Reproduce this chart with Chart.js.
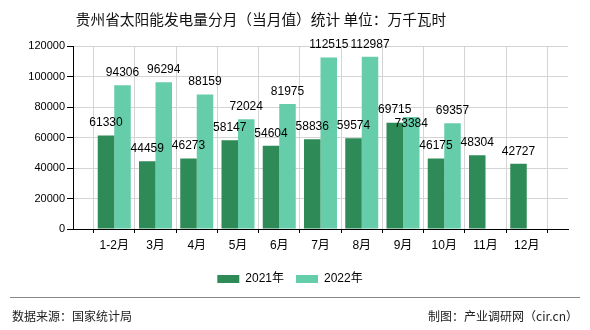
<!DOCTYPE html>
<html>
<head>
<meta charset="utf-8">
<script src="https://cdn.jsdelivr.net/npm/chart.js@4"></script>
<style>
  html, body { margin:0; padding:0; background:#fff; }
  #wrap { position:relative; width:590px; height:330px; overflow:hidden; font-family:"Noto Sans CJK SC", sans-serif; }
  #c { position:absolute; left:0; top:0; }
  #title { position:absolute; left:0; width:522px; top:8px; text-align:center; font-size:14.7px; color:#111; white-space:pre; }
  #line { position:absolute; left:10px; width:570px; top:297px; height:0; border-top:1.5px solid #888; }
  #src { position:absolute; left:12px; top:307px; font-size:12px; color:#222; }
  #by { position:absolute; right:12px; top:307px; font-size:12px; color:#222; }
</style>
</head>
<body>
<div id="wrap">
  <canvas id="c" width="590" height="330"></canvas>
  <div id="title">贵州省太阳能发电量分月（当月值）统计 单位：万千瓦时</div>
  <div id="line"></div>
  <div id="src">数据来源：国家统计局</div>
  <div id="by">制图：产业调研网（cir.cn）</div>
</div>
<script>
const categories = ['1-2月','3月','4月','5月','6月','7月','8月','9月','10月','11月','12月'];
const series2021 = [61330, 44459, 46273, 58147, 54604, 58836, 59574, 69715, 46175, 48304, 42727];
const series2022 = [94306, 96294, 88159, 72024, 81975, 112515, 112987, 73384, 69357, null, null];
const yTicks = [0, 20000, 40000, 60000, 80000, 100000, 120000];
const seriesNames = ['2021年', '2022年'];

// padded axis: empty slot at each end so categories sit on gridlines
const labels = [''].concat(categories, ['']);
const pad = arr => [null].concat(arr, [null]);

const labelPlugin = {
  id: 'barLabels',
  afterDatasetsDraw(chart) {
    const ctx = chart.ctx;
    ctx.save();
    ctx.font = '12px "Liberation Sans", sans-serif';
    ctx.fillStyle = '#000';
    ctx.textAlign = 'center';
    ctx.textBaseline = 'middle';
    const placed = [];
    const n = chart.data.labels.length;
    for (let i = 0; i < n; i++) {
      chart.data.datasets.forEach((ds, di) => {
        const v = ds.data[i];
        if (v === null || v === undefined) return;
        const el = chart.getDatasetMeta(di).data[i];
        const txt = String(v);
        const w = ctx.measureText(txt).width;
        let y = el.y - 12.5;
        const x = el.x;
        for (const p of placed) {
          if (Math.abs(p.x - x) < (p.w + w) / 2 && Math.abs(p.y - y) < 13) {
            y = p.y + 14;
          }
        }
        placed.push({x, y, w});
        ctx.fillText(txt, x, y);
      });
    }
    ctx.restore();
  }
};

new Chart(document.getElementById('c'), {
  type: 'bar',
  data: {
    labels: labels,
    datasets: [
      { label: seriesNames[0], data: pad(series2021), backgroundColor: '#2E8B57', borderWidth: 0 },
      { label: seriesNames[1], data: pad(series2022), backgroundColor: '#66CDAA', borderWidth: 0 }
    ]
  },
  options: {
    responsive: false,
    animation: false,
    devicePixelRatio: 1,
    datasets: { bar: { categoryPercentage: 0.8, barPercentage: 1.0 } },
    layout: { padding: { left: 0, right: 10, top: 46, bottom: 35 } },
    plugins: {
      legend: {
        position: 'bottom',
        labels: {
          boxWidth: 22, boxHeight: 8, padding: 12,
          color: '#000',
          font: { family: '"Liberation Sans", "Noto Sans CJK SC", sans-serif', size: 12 }
        }
      },
      title: { display: false },
      tooltip: { enabled: false }
    },
    scales: {
      x: {
        offset: false,
        afterFit: s => { s.height = 32; },
        grid: { color: '#d4d4d4', tickColor: '#000', tickLength: 4, drawOnChartArea: true },
        border: { color: '#000', width: 1 },
        ticks: {
          color: '#000', autoSkip: false, maxRotation: 0, padding: 5,
          font: { family: '"Liberation Sans", "Noto Sans CJK SC", sans-serif', size: 12 }
        }
      },
      y: {
        min: 0, max: 120000,
        afterFit: s => { s.width = 73; },
        afterBuildTicks: s => { s.ticks = yTicks.map(v => ({ value: v })); },
        grid: { color: '#d4d4d4', tickColor: '#000', tickLength: 6 },
        border: { color: '#000', width: 1 },
        ticks: {
          color: '#000', padding: 2,
          callback: v => String(v),
          font: { family: '"Liberation Sans", sans-serif', size: 11 }
        }
      },
      spacer: {
        type: 'linear', position: 'right', display: true,
        afterFit: s => { s.width = 12; },
        grid: { display: false, drawOnChartArea: false },
        border: { display: false },
        ticks: { display: false }
      }
    }
  },
  plugins: [labelPlugin]
});
</script>
</body>
</html>
